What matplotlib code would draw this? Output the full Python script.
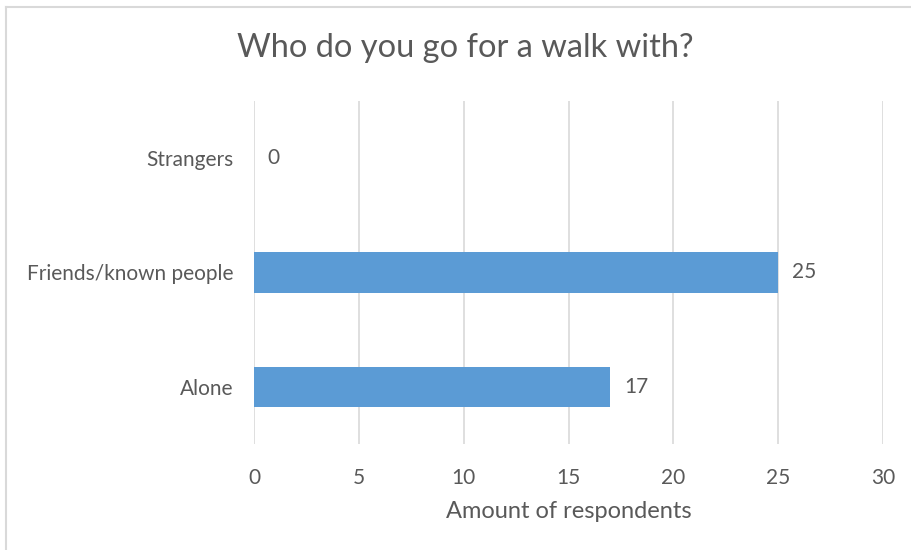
import matplotlib
matplotlib.use('Agg')
import matplotlib.pyplot as plt
from matplotlib.lines import Line2D

# survey answers, bottom to top
categories = ['Alone', 'Friends/known people', 'Strangers']
counts = [17, 25, 0]
xticks = [0, 5, 10, 15, 20, 25, 30]

bar_color = '#5B9BD5'
text_color = '#595959'
grid_color = '#D9D9D9'

plt.rcParams['font.family'] = ['Lato', 'DejaVu Sans']

fig = plt.figure(figsize=(9.12, 5.5), dpi=100)
ax = fig.add_axes([254/912, 1 - 444/550, (883 - 254)/912, (444 - 101)/550])

ypos = range(len(categories))
ax.barh(ypos, counts, height=0.35, color=bar_color, zorder=3)
for y, v in zip(ypos, counts):
    ax.text(v + 0.65, y, str(v), va='center', ha='left', fontsize=15, color=text_color)

ax.set_xlim(0, 30)
ax.set_ylim(-0.5, 2.5)
ax.set_xticks(xticks)
ax.set_xticklabels([str(t) for t in xticks], fontsize=15, color=text_color)
ax.set_yticks(list(ypos))
ax.set_yticklabels(categories, fontsize=15, color=text_color)
ax.tick_params(length=0)
ax.tick_params(axis='y', pad=15)
ax.tick_params(axis='x', pad=17)
ax.xaxis.grid(True, color=grid_color, linewidth=1.2, zorder=0)
for s in ax.spines.values():
    s.set_visible(False)

ax.set_xlabel('Amount of respondents', fontsize=17, color=text_color, labelpad=10)
fig.text(465/912, 1 - 48/550, 'Who do you go for a walk with?', fontsize=23.5,
         color=text_color, ha='center', va='center')

# chart frame, only the top and left edges show
fig.add_artist(Line2D([6/912, 6/912], [0, 1 - 7/550], transform=fig.transFigure,
                      color=grid_color, linewidth=1.5))
fig.add_artist(Line2D([6/912, 1], [1 - 7/550, 1 - 7/550], transform=fig.transFigure,
                      color=grid_color, linewidth=1.5))

fig.savefig('out.png', dpi=100)
